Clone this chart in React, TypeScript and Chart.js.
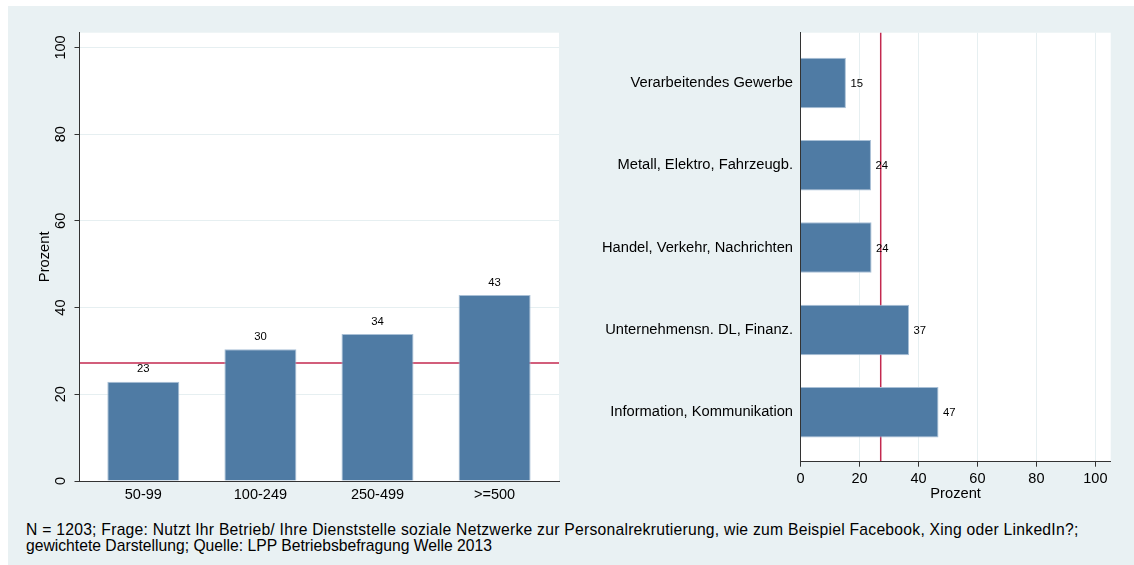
import React, { useEffect, useRef } from "react";
import { Chart, registerables } from "chart.js";

Chart.register(...registerables);

// ---- data ----
const sizeCategories = ["50-99", "100-249", "250-499", ">=500"];
const sizeValues = [22.9, 30.4, 33.9, 42.9];
const sectorCategories = [
  "Verarbeitendes Gewerbe",
  "Metall, Elektro, Fahrzeugb.",
  "Handel, Verkehr, Nachrichten",
  "Unternehmensn. DL, Finanz.",
  "Information, Kommunikation",
];
const sectorValues = [15.4, 23.9, 24.1, 36.8, 46.8];
const meanValue = 27.2;
const percentTicks = [0, 20, 40, 60, 80, 100];
const axisTitle = "Prozent";
const footnoteLines = [
  "N = 1203; Frage: Nutzt Ihr Betrieb/ Ihre Dienststelle soziale Netzwerke zur Personalrekrutierung, wie zum Beispiel Facebook, Xing oder LinkedIn?;",
  "gewichtete Darstellung; Quelle: LPP Betriebsbefragung Welle 2013",
];

// ---- styles ----
const FONT = "'Liberation Sans', Arial, Helvetica, sans-serif";
const BG = "#e9f1f3";
const GRID = "#e6eff1";
const AXIS = "#333333";
const BAR = "#4f7ba4";
const BAR_EDGE = "#a9c0d6";
const MEAN = "#c3294f";

const plotBg = {
  id: "plotBg",
  beforeDraw(chart: any) {
    const { ctx, chartArea: a } = chart;
    ctx.save();
    ctx.fillStyle = "#ffffff";
    ctx.fillRect(a.left, a.top, a.right - a.left, a.bottom - a.top);
    ctx.restore();
  },
};

const meanLine = {
  id: "meanLine",
  beforeDatasetsDraw(chart: any) {
    const { ctx, chartArea: a, scales } = chart;
    const horizontal = chart.options.indexAxis === "y";
    ctx.save();
    ctx.strokeStyle = MEAN;
    ctx.lineWidth = 1.5;
    ctx.beginPath();
    if (horizontal) {
      const x = scales.x.getPixelForValue(meanValue);
      ctx.moveTo(x, a.top);
      ctx.lineTo(x, a.bottom);
    } else {
      const y = scales.y.getPixelForValue(meanValue);
      ctx.moveTo(a.left, y);
      ctx.lineTo(a.right, y);
    }
    ctx.stroke();
    ctx.restore();
  },
};

const barLabels = {
  id: "barLabels",
  afterDatasetsDraw(chart: any) {
    const { ctx } = chart;
    const horizontal = chart.options.indexAxis === "y";
    const meta = chart.getDatasetMeta(0);
    const data = chart.data.datasets[0].data as any[];
    ctx.save();
    ctx.font = `11.3px ${FONT}`;
    ctx.fillStyle = "#000";
    meta.data.forEach((bar: any, i: number) => {
      const v = horizontal ? data[i].x : data[i].y;
      const txt = String(Math.round(v));
      if (horizontal) {
        ctx.textAlign = "left";
        ctx.textBaseline = "middle";
        ctx.fillText(txt, bar.x + 4.5, bar.y + 1);
      } else {
        ctx.textAlign = "center";
        ctx.textBaseline = "middle";
        ctx.fillText(txt, bar.x, bar.y - 12.5);
      }
    });
    ctx.restore();
  },
};

function LeftChart() {
  const ref = useRef<HTMLCanvasElement>(null);
  useEffect(() => {
    const chart = new Chart(ref.current!, {
      type: "bar",
      data: {
        datasets: [
          {
            data: sizeValues.map((v, i) => ({ x: i, y: v })),
            backgroundColor: BAR,
            borderColor: BAR_EDGE,
            borderWidth: 1,
            categoryPercentage: 1,
            barPercentage: 0.615,
          },
        ],
      },
      options: {
        animation: false,
        responsive: false,
        maintainAspectRatio: false,
        events: [],
        layout: { padding: { top: 26.7, right: 5, left: 0, bottom: 0 } },
        plugins: { legend: { display: false }, tooltip: { enabled: false } },
        scales: {
          x: {
            type: "linear",
            min: -0.545,
            max: 3.55,
            offset: false,
            afterBuildTicks: (s: any) => {
              s.ticks = sizeCategories.map((_, i) => ({ value: i }));
            },
            afterFit: (s: any) => {
              s.height = 39;
            },
            ticks: {
              callback: (v: any) => sizeCategories[v],
              autoSkip: false,
              maxRotation: 0,
              minRotation: 0,
              padding: 5.3,
              color: "#000",
              font: { family: FONT, size: 14.5 },
            },
            grid: { display: false, drawTicks: false, offset: false },
            border: { display: true, color: AXIS, width: 1, z: 1 },
          },
          y: {
            type: "linear",
            min: 0,
            max: 103.4,
            afterBuildTicks: (s: any) => {
              s.ticks = percentTicks.map((v) => ({ value: v }));
            },
            afterFit: (s: any) => {
              s.width = 71.5;
            },
            ticks: {
              minRotation: 90,
              maxRotation: 90,
              crossAlign: "center",
              padding: 1,
              color: "#000",
              font: { family: FONT, size: 14.5 },
            },
            grid: { color: GRID, tickColor: AXIS, tickLength: 5, lineWidth: 1 },
            border: { display: true, color: AXIS, width: 1, z: 1 },
            title: {
              display: true,
              text: axisTitle,
              color: "#000",
              font: { family: FONT, size: 14.7 },
              padding: { top: 28.2, bottom: 0 },
            },
          },
        },
      },
      plugins: [plotBg, meanLine, barLabels],
    } as any);
    return () => chart.destroy();
  }, []);
  return (
    <canvas
      ref={ref}
      width={556}
      height={514}
      style={{ position: "absolute", left: 8, top: 6, width: 556, height: 514 }}
    />
  );
}

function RightChart() {
  const ref = useRef<HTMLCanvasElement>(null);
  useEffect(() => {
    const chart = new Chart(ref.current!, {
      type: "bar",
      data: {
        datasets: [
          {
            data: sectorValues.map((v, i) => ({ x: v, y: i })),
            backgroundColor: BAR,
            borderColor: BAR_EDGE,
            borderWidth: 1,
            categoryPercentage: 1,
            barPercentage: 0.613,
          },
        ],
      },
      options: {
        indexAxis: "y",
        animation: false,
        responsive: false,
        maintainAspectRatio: false,
        events: [],
        layout: { padding: { top: 26.7, right: 23.3, left: 0, bottom: 0 } },
        plugins: { legend: { display: false }, tooltip: { enabled: false } },
        scales: {
          x: {
            type: "linear",
            min: 0,
            max: 105.2,
            afterBuildTicks: (s: any) => {
              s.ticks = percentTicks.map((v) => ({ value: v }));
            },
            afterFit: (s: any) => {
              s.height = 58.3;
            },
            ticks: {
              maxRotation: 0,
              minRotation: 0,
              padding: 3.5,
              color: "#000",
              font: { family: FONT, size: 14.5 },
            },
            grid: { color: GRID, tickColor: AXIS, tickLength: 5, lineWidth: 1 },
            border: { display: true, color: AXIS, width: 1, z: 1 },
            title: {
              display: true,
              text: axisTitle,
              color: "#000",
              font: { family: FONT, size: 14.7 },
              padding: { top: 0, bottom: 17.2 },
            },
          },
          y: {
            type: "linear",
            reverse: true,
            min: -0.61,
            max: 4.6,
            offset: false,
            afterBuildTicks: (s: any) => {
              s.ticks = sectorCategories.map((_, i) => ({ value: i }));
            },
            afterFit: (s: any) => {
              s.width = 230.5;
            },
            ticks: {
              callback: (v: any) => sectorCategories[v],
              autoSkip: false,
              padding: 7.5,
              color: "#000",
              font: { family: FONT, size: 14.7 },
            },
            grid: { display: false, drawTicks: false, offset: false },
            border: { display: true, color: AXIS, width: 1, z: 1 },
          },
        },
      },
      plugins: [plotBg, meanLine, barLabels],
    } as any);
    return () => chart.destroy();
  }, []);
  return (
    <canvas
      ref={ref}
      width={564}
      height={514}
      style={{ position: "absolute", left: 570, top: 6, width: 564, height: 514 }}
    />
  );
}

export default function App() {
  return (
    <div
      style={{
        position: "absolute",
        left: 0,
        top: 0,
        width: 1134,
        height: 565,
        background: "#ffffff",
        overflow: "hidden",
      }}
    >
      <div
        style={{
          position: "absolute",
          left: 8,
          top: 6,
          width: 1126,
          height: 559,
          background: BG,
        }}
      />
      <LeftChart />
      <RightChart />
      <div
        style={{
          position: "absolute",
          left: 26,
          top: 522,
          fontFamily: FONT,
          fontSize: 15.7,
          lineHeight: "16px",
          color: "#000",
          whiteSpace: "nowrap",
        }}
      >
        {footnoteLines.map((l, i) => (
          <div key={i} style={{ letterSpacing: i === 0 ? "0.25px" : "0px" }}>
            {l}
          </div>
        ))}
      </div>
    </div>
  );
}
